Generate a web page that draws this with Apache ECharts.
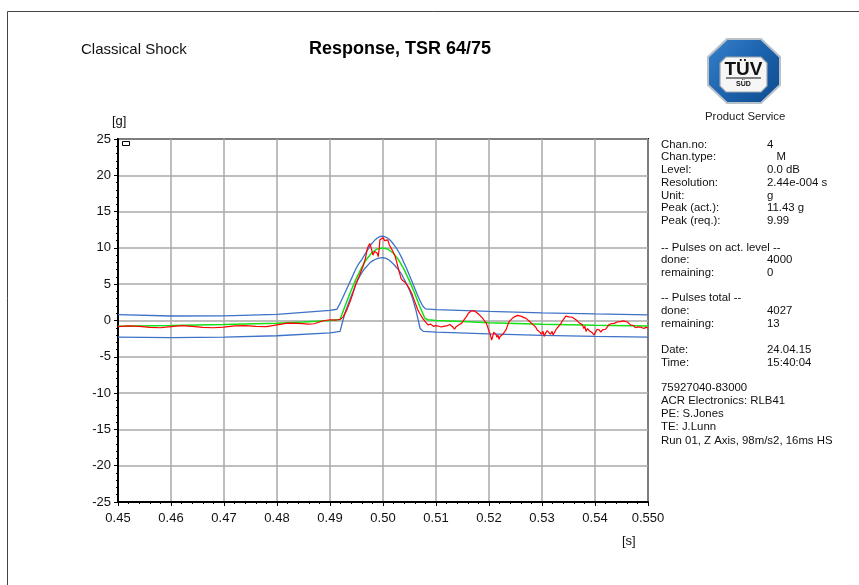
<!DOCTYPE html>
<html>
<head>
<meta charset="utf-8">
<script src="https://cdn.jsdelivr.net/npm/echarts@6/dist/echarts.min.js"></script>
<style>
html,body{margin:0;padding:0;background:#fff;}
#chart{width:859px;height:585px;}
</style>
</head>
<body>
<div id="chart"></div>
<script>
// Time axis tick labels [s]
var xTickLabels = ['0.45','0.46','0.47','0.48','0.49','0.50','0.51','0.52','0.53','0.54','0.550'];

// Reference half-sine pulse (green)
var refTime = [0.450,0.460,0.470,0.480,0.485,0.490,0.4919,
  0.4929,0.4939,0.4949,0.4959,0.4969,0.4979,0.4989,0.4999,
  0.5009,0.5019,0.5029,0.5039,0.5049,0.5059,0.5069,0.5079,0.5085,
  0.510,0.515,0.520,0.530,0.540,0.550];
var refValue = [-0.78,-0.7,-0.55,-0.38,-0.22,0.0,0.15,
  2.1,4.0,5.7,7.2,8.45,9.35,9.85,9.99,
  9.85,9.3,8.4,7.15,5.6,3.9,2.0,0.3,0.1,
  0.0,-0.15,-0.3,-0.5,-0.65,-0.75];

// Upper tolerance (blue)
var upTime = [0.450,0.460,0.470,0.480,0.490,0.4913,
  0.4920,0.4925,0.4930,0.4935,0.4940,0.4945,0.4950,0.4955,0.4960,0.4965,0.4970,0.4975,0.4980,0.4985,0.4990,0.4995,
  0.5000,0.5005,0.5010,0.5015,0.5020,0.5025,0.5030,0.5035,0.5040,0.5045,0.5050,0.5055,0.5060,0.5065,0.5070,0.5075,0.5080,
  0.510,0.520,0.530,0.540,0.550];
var upValue = [0.8,0.62,0.65,0.85,1.4,1.55,
  2.5,3.3,4.1,4.9,5.7,6.5,7.3,7.9,8.4,9.0,9.6,10.2,10.7,11.1,11.4,11.58,
  11.62,11.5,11.3,10.95,10.5,10.0,9.4,8.7,7.9,7.1,6.2,5.3,4.4,3.5,2.7,2.0,1.6,
  1.5,1.25,1.05,0.9,0.78];

// Lower tolerance (blue)
var lowTime = [0.450,0.460,0.470,0.480,0.490,0.4919,
  0.4923,0.4928,0.4933,0.4938,0.4943,0.4947,0.4952,0.4957,0.4962,0.4966,0.4971,0.4976,0.4981,0.4985,0.4990,0.4995,
  0.5000,0.5006,0.5012,0.5018,0.5023,0.5028,0.5034,0.5039,0.5045,0.5051,0.5056,0.5062,0.5066,0.5070,0.5076,
  0.510,0.520,0.530,0.540,0.550];
var lowValue = [-2.3,-2.35,-2.3,-2.1,-1.7,-1.5,
  -0.4,1.0,2.0,3.0,3.9,4.65,5.5,6.2,6.8,7.2,7.6,8.0,8.25,8.4,8.55,8.62,
  8.65,8.55,8.3,7.9,7.5,7.1,6.5,5.8,5.0,4.0,3.0,1.45,0.2,-1.1,-1.5,
  -1.6,-1.85,-2.05,-2.2,-2.3];

// Measured response (red)
var actTime = [0.450,0.452,0.454,0.456,0.458,0.460,0.462,0.464,0.466,0.468,0.470,0.472,0.474,0.476,0.478,0.480,0.482,0.484,0.486,0.487,0.488,0.489,0.490,0.491,0.4915,0.492,
  0.4925,0.4932,0.4938,0.4944,0.4949,0.4955,0.4962,0.4967,0.4970,0.4972,0.4975,0.4978,0.4981,0.4984,0.4987,0.4989,0.4991,0.4993,0.4994,0.4997,0.5000,0.5003,0.5006,0.5009,0.5012,0.5015,0.5018,0.5020,0.5023,0.5026,0.5028,0.5031,0.5034,0.5037,0.5041,0.5045,0.5048,0.5051,0.5055,0.5060,0.5063,0.5066,0.5070,0.5075,0.5080,0.5085,0.5090,0.5095,
  0.5100,0.5104,0.5107,0.5110,0.5114,0.5117,0.5120,0.5123,0.5126,0.5129,0.5132,0.5135,0.5138,0.5141,0.5144,0.5148,0.5151,0.5155,0.5158,0.5161,0.5164,0.5167,0.5170,0.5173,0.5176,0.5180,0.5183,0.5187,0.5191,0.5195,0.5198,
  0.5200,0.5202,0.5205,0.5207,0.5209,0.5211,0.5213,0.5215,0.5217,0.5219,0.5221,0.5223,0.5226,0.5229,0.5232,0.5235,0.5238,0.5241,0.5244,0.5248,0.5251,0.5254,0.5257,0.5260,0.5263,0.5266,0.5270,0.5273,0.5276,0.5279,0.5282,0.5285,0.5288,0.5291,0.5294,0.5296,0.5299,
  0.5302,0.5304,0.5307,0.5310,0.5313,0.5316,0.5319,0.5321,0.5323,0.5326,0.5329,0.5332,0.5335,0.5338,0.5342,0.5345,0.5348,0.5351,0.5354,0.5357,0.5360,0.5364,0.5367,0.5370,0.5373,0.5376,0.5379,0.5381,0.5383,0.5386,0.5389,0.5392,0.5395,0.5398,
  0.5401,0.5404,0.5408,0.5411,0.5414,0.5417,0.5420,0.5423,0.5426,0.5430,0.5433,0.5436,0.5439,0.5442,0.5445,0.5448,0.5451,0.5454,0.5457,0.5461,0.5464,0.5467,0.5470,0.5473,0.5476,0.5480,0.5483,0.5486,0.5489,0.5492,0.5496,0.5500];
var actValue = [-0.85,-0.75,-0.8,-0.95,-1.0,-0.85,-0.7,-0.8,-0.95,-1.0,-0.9,-0.75,-0.7,-0.8,-0.85,-0.6,-0.35,-0.4,-0.5,-0.45,-0.2,0.0,0.1,0.05,0.1,0.2,
  0.5,1.5,2.6,3.9,5.1,6.1,7.4,8.6,9.8,10.2,10.6,9.9,9.0,9.5,9.7,9.3,8.8,10.0,11.1,11.3,11.43,11.0,10.9,11.1,10.4,10.0,9.6,9.3,8.8,8.0,7.4,6.6,5.8,5.5,5.3,4.9,4.6,4.2,3.6,2.6,2.0,1.4,0.9,0.3,-0.2,-0.6,-0.5,-0.8,
  -0.7,-0.76,-0.6,-0.9,-0.8,-0.94,-0.75,-0.85,-0.55,-0.62,-0.9,-1.2,-0.85,-0.9,-0.55,-0.4,-0.1,0.3,0.6,1.0,1.1,1.35,1.45,1.3,1.1,0.9,0.76,0.4,0.0,-0.4,-1.0,
  -1.5,-1.8,-2.7,-2.2,-1.6,-1.5,-1.9,-2.3,-2.0,-2.6,-2.2,-2.45,-1.9,-1.6,-1.3,-0.7,-0.15,0.1,0.3,0.5,0.4,0.7,0.55,0.6,0.75,0.4,0.3,0.1,-0.1,-0.3,-0.5,-0.62,-0.9,-1.3,-1.1,-1.6,-1.9,
  -1.5,-2.2,-1.7,-1.4,-1.3,-1.9,-1.5,-2.0,-1.8,-1.3,-1.0,-0.85,-0.5,-0.1,0.3,0.6,0.4,0.5,0.35,0.45,0.2,0.1,-0.1,-0.3,-0.5,-0.6,-1.1,-0.8,-1.5,-1.1,-1.4,-1.3,-1.7,-2.0,
  -1.6,-1.2,-1.3,-1.6,-1.3,-1.5,-1.2,-0.9,-0.6,-0.45,-0.3,-0.4,-0.3,-0.2,-0.35,-0.15,-0.2,-0.05,-0.3,-0.2,-0.3,-0.6,-0.85,-0.7,-1.0,-0.9,-1.1,-0.9,-1.0,-1.1,-0.95,-1.0];

// Parameter panel lines: [label, value]
var infoLines = [
  ['Chan.no:', '4'],
  ['Chan.type:', '   M'],
  ['Level:', '0.0 dB'],
  ['Resolution:', '2.44e-004 s'],
  ['Unit:', 'g'],
  ['Peak (act.):', '11.43 g'],
  ['Peak (req.):', '9.99']
];
var pulseActLines = [['-- Pulses on act. level --',''],['done:','4000'],['remaining:','0']];
var pulseTotLines = [['-- Pulses total --',''],['done:','4027'],['remaining:','13']];
var dateLines = [['Date:','24.04.15'],['Time:','15:40:04']];
var noteLines = ['75927040-83000','ACR Electronics: RLB41','PE: S.Jones','TE: J.Lunn','Run 01, Z Axis, 98m/s2, 16ms HS'];

function pairs(t, v) { return t.map(function (x, i) { return [x, v[i]]; }); }

var FONT = '"Liberation Sans", Arial, Helvetica, sans-serif';
var textStyle = { font: '11.4px ' + FONT, fill: '#111', textVerticalAlign: 'middle' };

var graphics = [];
// page frame (top and left edges)
graphics.push({ type: 'line', shape: { x1: 7.5, y1: 11.5, x2: 859, y2: 11.5 }, style: { stroke: '#444', lineWidth: 1 } });
graphics.push({ type: 'line', shape: { x1: 7.5, y1: 11.5, x2: 7.5, y2: 585 }, style: { stroke: '#444', lineWidth: 1 } });

// headings
graphics.push({ type: 'text', x: 81, y: 50, style: { text: 'Classical Shock', font: '15px ' + FONT, fill: '#111', textVerticalAlign: 'middle' } });
graphics.push({ type: 'text', x: 309, y: 49, style: { text: 'Response, TSR 64/75', font: 'bold 18px ' + FONT, fill: '#000', textVerticalAlign: 'middle' } });

// axis units
graphics.push({ type: 'text', x: 112, y: 121, style: { text: '[g]', font: '13px ' + FONT, fill: '#111', textVerticalAlign: 'middle' } });
graphics.push({ type: 'text', x: 622, y: 541, style: { text: '[s]', font: '13px ' + FONT, fill: '#111', textVerticalAlign: 'middle' } });

// small marker box in the plot corner
graphics.push({ type: 'rect', shape: { x: 122.5, y: 141.5, width: 7, height: 4 }, style: { fill: '#fff', stroke: '#000', lineWidth: 1 } });

// logo: blue octagon with inner plate
function octagon(x0, y0, x1, y1, cx, cy) {
  return [[x0 + cx, y0], [x1 - cx, y0], [x1, y0 + cy], [x1, y1 - cy],
          [x1 - cx, y1], [x0 + cx, y1], [x0, y1 - cy], [x0, y0 + cy]];
}
graphics.push({ type: 'polygon', shape: { points: octagon(708, 39, 780, 103, 19, 18) },
  style: { fill: new echarts.graphic.LinearGradient(0, 0, 1, 1, [{ offset: 0, color: '#3a82cc' }, { offset: 0.5, color: '#1c62ad' }, { offset: 1, color: '#0e4a8c' }]), stroke: '#b8c0c8', lineWidth: 2 } });
graphics.push({ type: 'polygon', shape: { points: octagon(720, 57, 767, 92, 6, 6) },
  style: { fill: '#f6f6f6', stroke: '#9aa4ae', lineWidth: 1.2 } });
graphics.push({ type: 'text', x: 743.5, y: 69.5, style: { text: 'TÜV', font: 'bold 19px ' + FONT, fill: '#111', textAlign: 'center', textVerticalAlign: 'middle' } });
graphics.push({ type: 'line', shape: { x1: 726, y1: 78, x2: 761, y2: 78 }, style: { stroke: '#111', lineWidth: 1 } });
graphics.push({ type: 'text', x: 743.5, y: 84, style: { text: 'SÜD', font: 'bold 7px ' + FONT, fill: '#111', textAlign: 'center', textVerticalAlign: 'middle' } });
graphics.push({ type: 'text', x: 705, y: 116.5, style: { text: 'Product Service', font: '11.4px ' + FONT, fill: '#222', textVerticalAlign: 'middle' } });

// parameter panel
var LINE_H = 12.75;
function addBlock(lines, y0) {
  lines.forEach(function (ln, i) {
    var y = y0 + i * LINE_H;
    graphics.push({ type: 'text', x: 661, y: y, style: Object.assign({ text: ln[0] }, textStyle) });
    if (ln[1]) graphics.push({ type: 'text', x: 767, y: y, style: Object.assign({ text: ln[1] }, textStyle) });
  });
}
addBlock(infoLines, 144.5);
addBlock(pulseActLines, 247.5);
addBlock(pulseTotLines, 298);
addBlock(dateLines, 350);
noteLines.forEach(function (t, i) {
  graphics.push({ type: 'text', x: 661, y: 388 + i * 13.1, style: Object.assign({ text: t }, textStyle) });
});

var chart = echarts.init(document.getElementById('chart'), null, { renderer: 'canvas' });
chart.setOption({
  animation: false,
  backgroundColor: '#fff',
  grid: { left: 118, right: 211, top: 139, bottom: 83, show: true, borderColor: '#000', borderWidth: 2, backgroundColor: 'transparent' },
  xAxis: {
    type: 'value', min: 0.45, max: 0.55, interval: 0.01,
    axisLine: { show: true, onZero: false, lineStyle: { color: '#000', width: 2 } },
    axisTick: { show: true, inside: false, length: 4, lineStyle: { color: '#000' } },
    minorTick: { show: true, splitNumber: 5, length: 2, lineStyle: { color: '#000' } },
    splitLine: { show: true, lineStyle: { color: '#a8a8a8', width: 1.5 } },
    axisLabel: {
      color: '#111', fontSize: 13, fontFamily: FONT, margin: 10,
      formatter: function (v) { var i = Math.round((v - 0.45) / 0.01); return xTickLabels[i] || ''; }
    }
  },
  yAxis: {
    type: 'value', min: -25, max: 25, interval: 5,
    axisLine: { show: true, onZero: false, lineStyle: { color: '#000', width: 2 } },
    axisTick: { show: true, inside: false, length: 4, lineStyle: { color: '#000' } },
    minorTick: { show: true, splitNumber: 5, length: 2, lineStyle: { color: '#000' } },
    splitLine: { show: true, lineStyle: { color: '#a8a8a8', width: 1.5 } },
    axisLabel: { color: '#111', fontSize: 13, fontFamily: FONT, margin: 7 }
  },
  series: [
    { type: 'line', data: pairs(upTime, upValue), showSymbol: false, smooth: false, lineStyle: { color: '#3d72c8', width: 1.3 }, z: 3 },
    { type: 'line', data: pairs(lowTime, lowValue), showSymbol: false, smooth: false, lineStyle: { color: '#3d72c8', width: 1.3 }, z: 3 },
    { type: 'line', data: pairs(refTime, refValue), showSymbol: false, lineStyle: { color: '#14e014', width: 1.5 }, z: 4 },
    { type: 'line', data: pairs(actTime, actValue), showSymbol: false, lineStyle: { color: '#ff0000', width: 1.2 }, z: 5 }
  ],
  graphic: graphics
});
</script>
</body>
</html>
